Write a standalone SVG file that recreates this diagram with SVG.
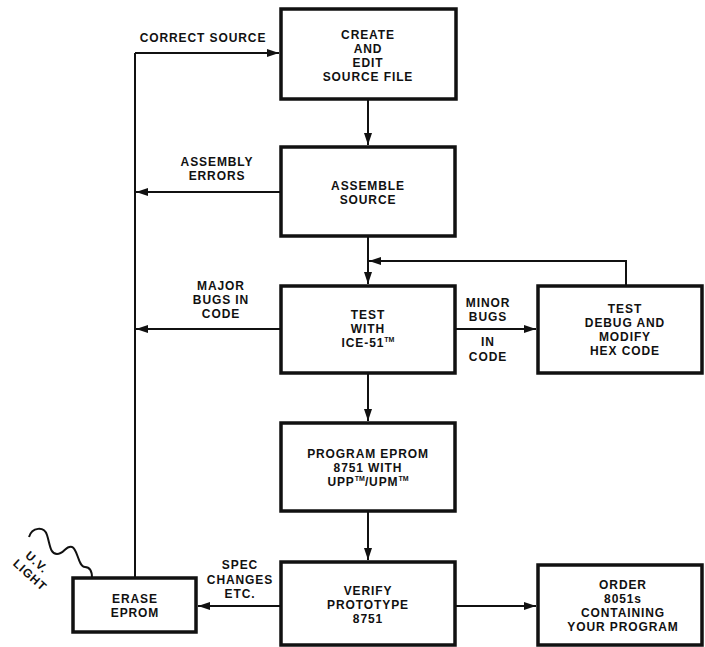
<svg xmlns="http://www.w3.org/2000/svg" width="705" height="647" viewBox="0 0 705 647">
<style>
  .box{fill:#fff;stroke:#111;stroke-width:3.5}
  .ln{fill:none;stroke:#111;stroke-width:2}
  .arr{marker-end:url(#ah)}
  text{font-family:"Liberation Sans",Arial,sans-serif;font-weight:bold;font-size:12px;fill:#111;text-anchor:middle;letter-spacing:0.9px}
  .tm{font-size:7px;letter-spacing:0}
</style>
<defs>
  <marker id="ah" viewBox="0 0 12 8" refX="12" refY="4" markerWidth="12" markerHeight="8" markerUnits="userSpaceOnUse" orient="auto">
    <path d="M0,0 L12,4 L0,8 Z" fill="#111"/>
  </marker>
</defs>
<rect width="705" height="647" fill="#fff"/>
<g id="connectors">
  <path class="ln" d="M135,578 V53"/>
  <path class="ln arr" d="M135,53 H279"/>
  <path class="ln arr" d="M281,192 H136"/>
  <path class="ln arr" d="M281,329 H136"/>
  <path class="ln arr" d="M368,99 V145"/>
  <path class="ln arr" d="M368,236 V284"/>
  <path class="ln arr" d="M626,286 V261 H369"/>
  <path class="ln arr" d="M455,329 H536"/>
  <path class="ln arr" d="M368,373 V421"/>
  <path class="ln arr" d="M368,511 V560"/>
  <path class="ln arr" d="M281,606 H198"/>
  <path class="ln arr" d="M455,606 H536"/>
  <path class="ln" d="M29,537 C32,527 44,526 47,535 C50,544 50,554 57,554 C64,554 66,545 72,547 C78,549 78,567 85,567 C91,567 92,572 92,578"/>
</g>
<g id="labels">
  <text x="203" y="42">CORRECT SOURCE</text>
  <text x="217" y="166">ASSEMBLY</text>
  <text x="217" y="180">ERRORS</text>
  <text x="221" y="290">MAJOR</text>
  <text x="221" y="304">BUGS IN</text>
  <text x="221" y="318">CODE</text>
  <text x="488" y="307">MINOR</text>
  <text x="488" y="321">BUGS</text>
  <text x="488" y="346">IN</text>
  <text x="488" y="361">CODE</text>
  <text x="240" y="569">SPEC</text>
  <text x="240" y="584">CHANGES</text>
  <text x="240" y="598">ETC.</text>
  <text transform="translate(37,562) rotate(42)"><tspan x="0" y="4.3">U.V.</tspan><tspan x="3.5" y="18.5">LIGHT</tspan></text>
</g>
<g id="create">
  <rect class="box" x="281" y="9" width="175" height="90"/>
  <text x="368" y="39">CREATE</text>
  <text x="368" y="53">AND</text>
  <text x="368" y="67">EDIT</text>
  <text x="368" y="81">SOURCE FILE</text>
</g>
<g id="assemble">
  <rect class="box" x="281" y="147" width="174" height="89"/>
  <text x="368" y="190">ASSEMBLE</text>
  <text x="368" y="204">SOURCE</text>
</g>
<g id="test">
  <rect class="box" x="281" y="286" width="174" height="87"/>
  <text x="368" y="319">TEST</text>
  <text x="368" y="333">WITH</text>
  <text x="368" y="347">ICE-51<tspan class="tm" dy="-5">TM</tspan></text>
</g>
<g id="debug">
  <rect class="box" x="538" y="286" width="164" height="87"/>
  <text x="625" y="313">TEST</text>
  <text x="625" y="327">DEBUG AND</text>
  <text x="625" y="341">MODIFY</text>
  <text x="625" y="355">HEX CODE</text>
</g>
<g id="program">
  <rect class="box" x="281" y="423" width="174" height="88"/>
  <text x="368" y="458">PROGRAM EPROM</text>
  <text x="368" y="472">8751 WITH</text>
  <text x="368" y="486">UPP<tspan class="tm" dy="-5">TM</tspan><tspan dy="5">/UPM</tspan><tspan class="tm" dy="-5">TM</tspan></text>
</g>
<g id="verify">
  <rect class="box" x="281" y="562" width="174" height="83"/>
  <text x="368" y="595">VERIFY</text>
  <text x="368" y="609">PROTOTYPE</text>
  <text x="368" y="623">8751</text>
</g>
<g id="order">
  <rect class="box" x="538" y="565" width="164" height="80"/>
  <text x="623" y="589">ORDER</text>
  <text x="623" y="603">8051s</text>
  <text x="623" y="617">CONTAINING</text>
  <text x="623" y="631">YOUR PROGRAM</text>
</g>
<g id="erase">
  <rect class="box" x="73" y="578" width="123" height="54"/>
  <text x="135" y="603">ERASE</text>
  <text x="135" y="617">EPROM</text>
</g>
</svg>
